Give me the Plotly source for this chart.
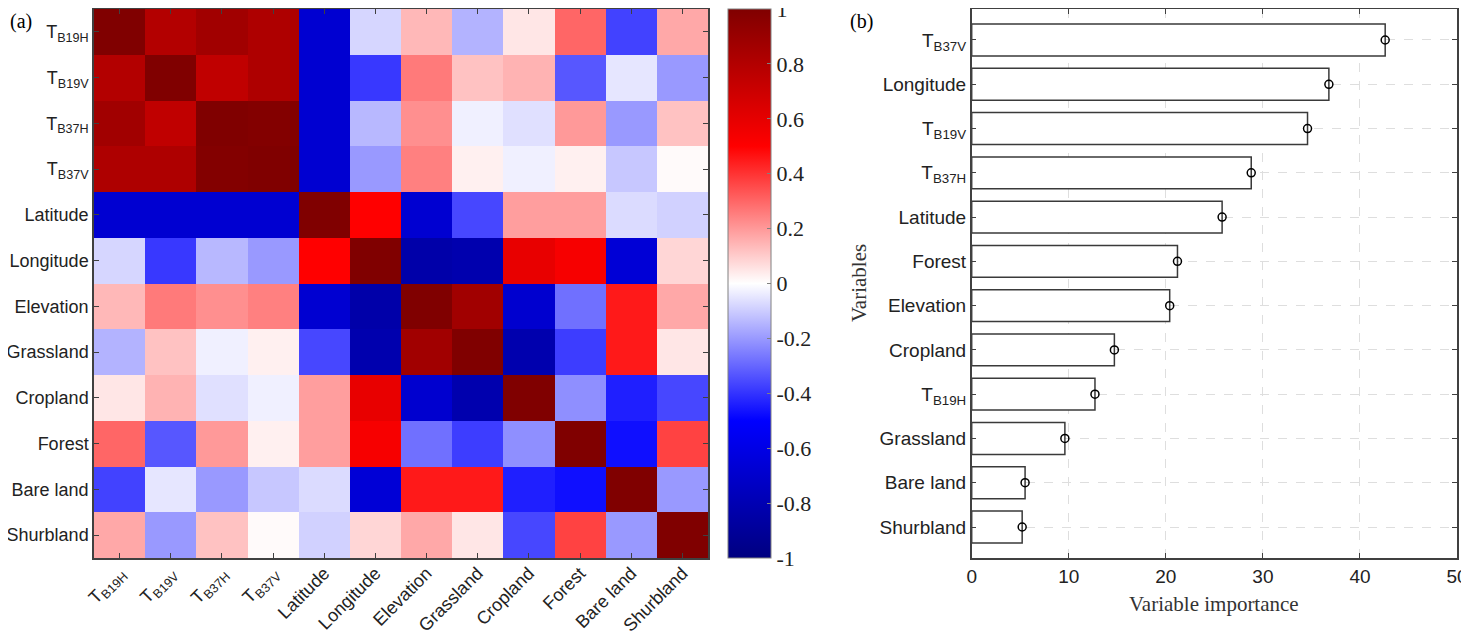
from plotly import graph_objects as go

# variables in the correlation matrix (a)
variables = [
    'T<sub>B19H</sub>', 'T<sub>B19V</sub>', 'T<sub>B37H</sub>', 'T<sub>B37V</sub>',
    'Latitude', 'Longitude', 'Elevation', 'Grassland',
    'Cropland', 'Forest', 'Bare land', 'Shurbland',
]

corr = [
    [1.00, 0.80, 0.87, 0.82, -0.68, -0.08, 0.14, -0.15, 0.05, 0.30, -0.37, 0.17],
    [0.80, 1.00, 0.75, 0.82, -0.68, -0.39, 0.26, 0.12, 0.15, -0.33, -0.05, -0.20],
    [0.87, 0.75, 1.00, 0.99, -0.68, -0.14, 0.22, -0.03, -0.06, 0.20, -0.20, 0.12],
    [0.82, 0.82, 0.99, 1.00, -0.68, -0.20, 0.25, 0.03, -0.03, 0.03, -0.11, 0.01],
    [-0.68, -0.68, -0.68, -0.68, 1.00, 0.50, -0.68, -0.36, 0.19, 0.19, -0.07, -0.09],
    [-0.08, -0.39, -0.14, -0.20, 0.50, 1.00, -0.84, -0.82, 0.59, 0.53, -0.66, 0.08],
    [0.14, 0.26, 0.22, 0.25, -0.68, -0.84, 1.00, 0.87, -0.69, -0.28, 0.45, 0.17],
    [-0.15, 0.12, -0.03, 0.03, -0.36, -0.82, 0.87, 1.00, -0.82, -0.38, 0.45, 0.05],
    [0.05, 0.15, -0.06, -0.03, 0.19, 0.59, -0.69, -0.82, 1.00, -0.22, -0.44, -0.36],
    [0.30, -0.33, 0.20, 0.03, 0.19, 0.53, -0.28, -0.38, -0.22, 1.00, -0.47, 0.37],
    [-0.37, -0.05, -0.20, -0.11, -0.07, -0.66, 0.45, 0.45, -0.44, -0.47, 1.00, -0.20],
    [0.17, -0.20, 0.12, 0.01, -0.09, 0.08, 0.17, 0.05, -0.36, 0.37, -0.20, 1.00],
]

cbar_ticks = [-1, -0.8, -0.6, -0.4, -0.2, 0, 0.2, 0.4, 0.6, 0.8, 1]

# variable importance (b), top to bottom
imp_names = [
    'T<sub>B37V</sub>', 'Longitude', 'T<sub>B19V</sub>', 'T<sub>B37H</sub>',
    'Latitude', 'Forest', 'Elevation', 'Cropland',
    'T<sub>B19H</sub>', 'Grassland', 'Bare land', 'Shurbland',
]
imp_values = [42.6, 36.8, 34.6, 28.8, 25.8, 21.2, 20.4, 14.7, 12.7, 9.6, 5.5, 5.2]

# page body keeps an 8px margin, so the figure is shrunk and positions shifted by it
OFF = 8
W, H = 1469 - OFF, 633 - OFF
SANS = 'Liberation Sans, Arial, sans-serif'
SERIF = 'Liberation Serif, Times New Roman, serif'
EDGE = '#404040'


def px(x):
    return (x - OFF) / W


def py(y):
    return 1 - (y - OFF) / H


colorscale = [
    [0.0, 'rgb(0,0,128)'],
    [0.25, 'rgb(0,0,255)'],
    [0.5, 'rgb(255,255,255)'],
    [0.75, 'rgb(255,0,0)'],
    [1.0, 'rgb(128,0,0)'],
]

idx = list(range(len(variables)))

heat = go.Heatmap(
    z=corr,
    x=idx,
    y=idx,
    zmin=-1,
    zmax=1,
    colorscale=colorscale,
    xaxis='x',
    yaxis='y',
    colorbar=dict(
        x=px(728),
        xanchor='left',
        xref='paper',
        xpad=0,
        ypad=0,
        y=py(558),
        yanchor='bottom',
        len=(558 - 9) / H,
        lenmode='fraction',
        thickness=43,
        thicknessmode='pixels',
        outlinecolor='#808080',
        outlinewidth=1,
        tickmode='array',
        tickvals=cbar_ticks,
        ticktext=[f'{v:g}' for v in cbar_ticks],
        ticklabeloverflow='allow',
        ticks='inside',
        ticklen=4,
        tickcolor='#808080',
        tickfont=dict(family=SERIF, size=22, color='#222222'),
    ),
    hoverinfo='skip',
)

bars = go.Bar(
    x=imp_values,
    y=imp_names,
    orientation='h',
    width=0.72,
    marker=dict(color='white', line=dict(color='#3a3a3a', width=1.5)),
    xaxis='x2',
    yaxis='y2',
    showlegend=False,
    hoverinfo='skip',
)

dots = go.Scatter(
    x=imp_values,
    y=imp_names,
    mode='markers',
    marker=dict(symbol='circle-open', size=8, color='black', line=dict(width=1.5)),
    xaxis='x2',
    yaxis='y2',
    showlegend=False,
    hoverinfo='skip',
)

axis_common = dict(
    automargin=False,
    showline=True,
    linecolor=EDGE,
    linewidth=1.5,
    mirror='ticks',
    ticks='inside',
    ticklen=5,
    tickcolor=EDGE,
    tickfont=dict(family=SANS, size=19, color='#222222'),
    ticklabeloverflow='allow',
    zeroline=False,
)

heat_font = dict(family=SANS, size=18, color='#222222')

layout = go.Layout(
    template='none',
    width=W,
    height=H,
    margin=dict(l=0, r=0, t=0, b=0, pad=0),
    paper_bgcolor='white',
    plot_bgcolor='white',
    showlegend=False,
    xaxis=dict(
        axis_common,
        domain=[px(94), px(708)],
        anchor='y',
        tickvals=idx,
        ticktext=variables,
        tickangle=-45,
        tickfont=heat_font,
        ticklabelstandoff=-4,
        range=[-0.5, 11.5],
        showgrid=False,
    ),
    yaxis=dict(
        axis_common,
        domain=[py(558), py(9)],
        anchor='x',
        tickvals=idx,
        ticktext=variables,
        tickfont=heat_font,
        range=[11.5, -0.5],
        showgrid=False,
    ),
    xaxis2=dict(
        axis_common,
        domain=[px(971.7), px(1457)],
        anchor='y2',
        range=[0, 50],
        dtick=10,
        showgrid=True,
        gridcolor='#dedede',
        griddash='dash',
        gridwidth=1,
    ),
    yaxis2=dict(
        axis_common,
        domain=[py(558), py(9)],
        anchor='x2',
        type='category',
        categoryorder='array',
        categoryarray=imp_names,
        range=[11.7, -0.7],
        showgrid=True,
        gridcolor='#dedede',
        griddash='dash',
        gridwidth=1,
    ),
    annotations=[
        dict(text='(a)', x=0, y=1, xref='paper', yref='paper', xanchor='left', yanchor='top',
             showarrow=False, font=dict(family=SERIF, size=20, color='black')),
        dict(text='(b)', x=px(848), y=1, xref='paper', yref='paper', xanchor='left', yanchor='top',
             showarrow=False, font=dict(family=SERIF, size=20, color='black')),
        dict(text='Variable importance', x=px(1214), y=py(604), xref='paper', yref='paper',
             xanchor='center', yanchor='middle', showarrow=False,
             font=dict(family=SERIF, size=21, color='#333333')),
        dict(text='Variables', x=px(859), y=py(283), xref='paper', yref='paper', textangle=-90,
             xanchor='center', yanchor='middle', showarrow=False,
             font=dict(family=SERIF, size=21, color='#333333')),
    ],
)

fig = go.Figure(data=[heat, bars, dots], layout=layout)
fig.write_html('out.html')
